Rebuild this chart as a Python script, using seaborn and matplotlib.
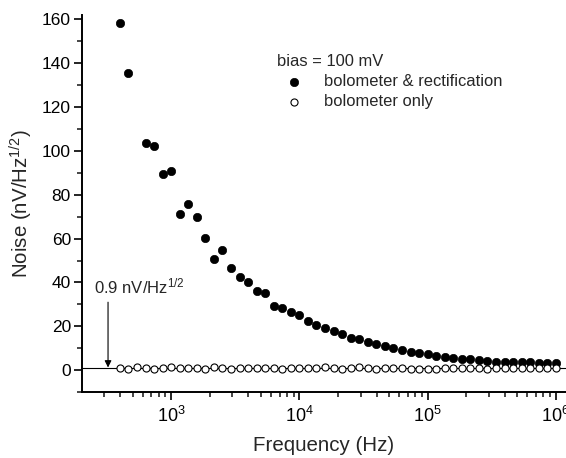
import numpy as np
import pandas as pd
import seaborn as sns
import matplotlib.pyplot as plt
from matplotlib.ticker import MultipleLocator, LogLocator, NullFormatter

## data
# frequencies (Hz), 15 points per decade from ~400 Hz to 1 MHz
freq_all = [398, 464, 541, 631, 736, 858, 1000, 1166, 1359, 1585,
            1848, 2154, 2512, 2929, 3415, 3981, 4642, 5412, 6310, 7356,
            8577, 10000, 11659, 13594, 15849, 18478, 21544, 25119, 29286, 34146,
            39811, 46416, 54117, 63096, 73564, 85770, 100000, 116591, 135936, 158489,
            184785, 215443, 251189, 292864, 341455, 398107, 464159, 541170, 630957, 735642,
            857696, 1000000]

# bolometer & rectification (no point at 541 Hz)
freq_rect = [f for f in freq_all if f != 541]
noise_rect = [158.6, 135.5, 103.5, 102.2, 89.4, 90.8, 71.2, 75.8, 69.8,
              60.2, 50.8, 54.6, 46.8, 42.7, 40.2, 36.0, 35.1, 29.3, 28.4,
              26.3, 25.1, 22.6, 20.7, 19.3, 17.8, 16.5, 14.7, 14.0, 12.9,
              11.7, 10.8, 10.0, 9.3, 8.1, 7.6, 7.2, 6.5, 6.1, 5.6,
              5.2, 5.0, 4.6, 4.2, 3.9, 3.8, 3.5, 3.5, 3.5, 3.3, 3.3, 3.2]

# bolometer only
noise_bolo = [0.8, 0.7, 1.6, 0.8, 0.7, 0.8, 1.5, 1.0, 0.9, 0.8,
              0.6, 1.4, 0.8, 0.7, 0.9, 0.8, 0.9, 0.8, 0.9, 0.7,
              0.9, 0.8, 0.9, 1.0, 1.6, 0.9, 0.6, 1.0, 1.6, 0.9,
              0.7, 1.1, 0.9, 0.8, 0.5, 0.6, 0.5, 0.7, 1.0, 0.9,
              0.9, 1.0, 0.8, 0.3, 0.8, 1.0, 1.0, 1.1, 1.0, 0.9, 1.0, 1.0]

floor_level = 0.9
arrow_freq = 322

rect = pd.DataFrame({"freq": freq_rect, "noise": noise_rect})
bolo = pd.DataFrame({"freq": freq_all, "noise": noise_bolo})

sns.set_style("ticks")
plt.rcParams['font.family'] = ['Liberation Sans', 'DejaVu Sans']
plt.rcParams['mathtext.fontset'] = 'custom'
plt.rcParams['mathtext.rm'] = 'Liberation Sans'
plt.rcParams['mathtext.it'] = 'Liberation Sans'

fig = plt.figure(figsize=(5.66, 4.58), dpi=100)
ax = fig.add_axes([0.145, 0.144, 0.855, 0.823])

sns.scatterplot(data=rect, x="freq", y="noise", ax=ax, color="black", s=36,
                edgecolor="black", linewidth=0.5, label="bolometer & rectification")
sns.scatterplot(data=bolo, x="freq", y="noise", ax=ax, facecolor="white", s=26,
                edgecolor="black", linewidth=0.8, label="bolometer only")

ax.axhline(floor_level, color="black", lw=0.8, zorder=0)
ax.annotate("", xy=(arrow_freq, floor_level + 0.3), xytext=(arrow_freq, 31),
            arrowprops=dict(arrowstyle="-|>", color="black", lw=0.8,
                            mutation_scale=10, shrinkA=0, shrinkB=0))
ax.text(252, 38, r"0.9 nV/Hz$^{1/2}$", fontsize=12, va="center", ha="left")

ax.set_xscale("log")
ax.set_xlim(202, 1.2e6)
ax.set_ylim(-10, 162)
ax.yaxis.set_major_locator(MultipleLocator(20))
ax.yaxis.set_minor_locator(MultipleLocator(10))
ax.xaxis.set_major_locator(LogLocator(base=10, numticks=10))
ax.xaxis.set_minor_locator(LogLocator(base=10, subs=np.arange(2, 10), numticks=20))
ax.xaxis.set_minor_formatter(NullFormatter())

ax.tick_params(which="major", direction="out", length=6, width=1.2, labelsize=12.5,
               colors="black", pad=2)
ax.tick_params(axis="x", which="major", pad=4, labelsize=13)
ax.tick_params(which="minor", direction="out", length=3.3, width=1.2)
for s in ["left", "bottom"]:
    ax.spines[s].set_linewidth(1.4)
    ax.spines[s].set_color("black")
sns.despine(ax=ax)

ax.set_xlabel("Frequency (Hz)", fontsize=14.8, labelpad=7)
ax.set_ylabel(r"Noise (nV/Hz$^{1/2}$)", fontsize=14.8, labelpad=5)

leg = ax.legend(title="bias = 100 mV", frameon=False, loc="upper left",
                bbox_to_anchor=(0.39, 0.915), fontsize=11.9, title_fontsize=11.9,
                handletextpad=0.8, labelspacing=0.32, borderaxespad=0)
leg._legend_box.align = "left"

fig.savefig("out.png", dpi=100)
